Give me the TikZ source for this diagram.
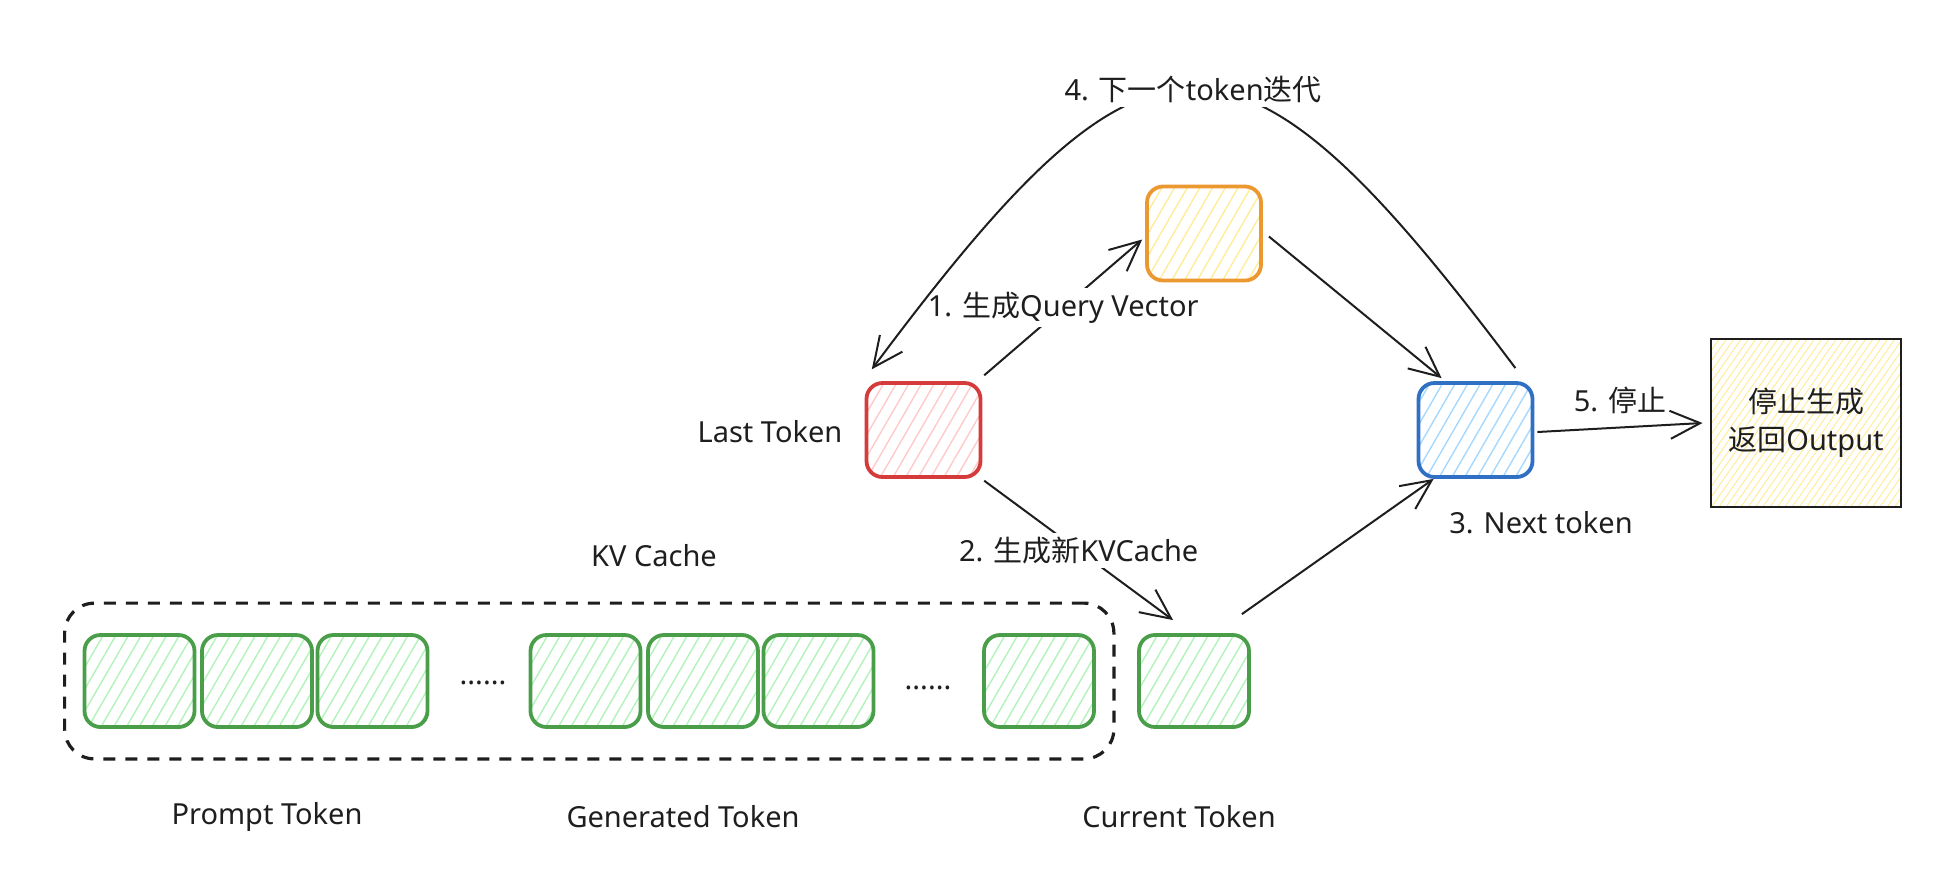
\documentclass[tikz,border=0pt]{standalone}
\usepackage{fontspec}
\setmainfont{Noto Sans}
\newfontfamily\cjk{Noto Sans CJK SC}
\usepackage{tikz}
\usetikzlibrary{patterns.meta,arrows.meta,fit}
\usepackage{xcolor}
\definecolor{InkBlack}{HTML}{1E1E1E}
\definecolor{BrickRed}{HTML}{D63B3B}
\definecolor{BlushPink}{HTML}{FFC9C9}
\definecolor{Tangerine}{HTML}{EB9830}
\definecolor{Butter}{HTML}{FFEC99}
\definecolor{Cobalt}{HTML}{2F6FC4}
\definecolor{SkyBlue}{HTML}{A5D8FF}
\definecolor{Fern}{HTML}{4A9E4A}
\definecolor{Mint}{HTML}{B2F2BB}

\tikzset{
  tokenbox/.style 2 args={draw=#1, line width=1.9pt, rounded corners=8pt,
    minimum width=57pt, minimum height=47pt,
    pattern={Lines[angle=60,distance=5.5pt,line width=0.7pt]}, pattern color=#2},
  outbox/.style={draw=InkBlack, line width=1.1pt, minimum width=95pt, minimum height=84pt,
    align=center, pattern={Lines[angle=55,distance=3pt,line width=0.5pt]}, pattern color=Butter},
  cachebox/.style={draw=InkBlack, line width=1.6pt, dash pattern=on 6pt off 5pt,
    rounded corners=15pt, inner xsep=9pt, inner ysep=15pt},
  flow/.style={draw=InkBlack, line width=1pt, -{Straight Barb[length=15pt,width=14pt]}},
  steplabel/.style={fill=white, inner sep=2pt}
}

\begin{document}
\begin{tikzpicture}[x=0.5pt, y=-0.5pt, font=\fontsize{14.5}{19}\selectfont, text=InkBlack]
    \useasboundingbox (0,0) rectangle (1954,880);

    \node[tokenbox={BrickRed}{BlushPink}] (last) at (923.5,430) {};
    \node[tokenbox={Tangerine}{Butter}] (query) at (1204,233.5) {};
    \node[tokenbox={Cobalt}{SkyBlue}] (next) at (1475.5,430) {};
    \node[outbox] (output) at (1806,423) {{\cjk 停止生成}\\{\cjk 返回}Output};

    \foreach \tok/\xpos in {p1/139.5, p2/257, p3/372.5, g1/585.5, g2/703, g3/818.5, g4/1039, cur/1194}
        \node[tokenbox={Fern}{Mint}, minimum width=55pt, minimum height=46pt] (\tok) at (\xpos,681) {};
    \node[cachebox, fit=(p1)(g4)] (cache) {};

    \node (lastlbl) at (770,432) {Last Token};
    \node (nextlbl) at (1541,523) {3. Next token};
    \node (cachelbl) at (654,556) {KV Cache};
    \node (dotsa) at (483,683) {......};
    \node (dotsb) at (928,688) {......};
    \node (promptlbl) at (267,817) {Prompt Token};
    \node (genlbl) at (683,817) {Generated Token};
    \node (curlbl) at (1179,817) {Current Token};

    \draw[flow] ([xshift=1.5pt,yshift=3.5pt]last.north east) -- node[steplabel] {1. {\cjk 生成}Query Vector} ([xshift=-1.5pt,yshift=-3pt]query.west);
    \draw[flow] ([xshift=3pt,yshift=-1.5pt]query.east) -- ([xshift=12.5pt,yshift=1.5pt]next.north west);
    \draw[flow] ([xshift=1.5pt,yshift=-1.5pt]last.south east) -- node[steplabel] {2. {\cjk 生成新}KVCache} ([xshift=18pt,yshift=6.5pt]cur.north west);
    \draw[flow] ([xshift=-4.5pt,yshift=9.5pt]cur.north east) -- ([xshift=8.5pt]next.south west);
    \draw[flow] ([xshift=-9.5pt,yshift=6.5pt]next.north east) .. controls (1236,-4) and (1150,-4) .. node[steplabel] {4. {\cjk 下一个}token{\cjk 迭代}} ([xshift=3pt,yshift=6.5pt]last.north west);
    \draw[flow] ([xshift=1.5pt,yshift=-1pt]next.east) -- node[above=3pt] {5. {\cjk 停止}} ([xshift=-4pt]output.west);
\end{tikzpicture}
\end{document}
